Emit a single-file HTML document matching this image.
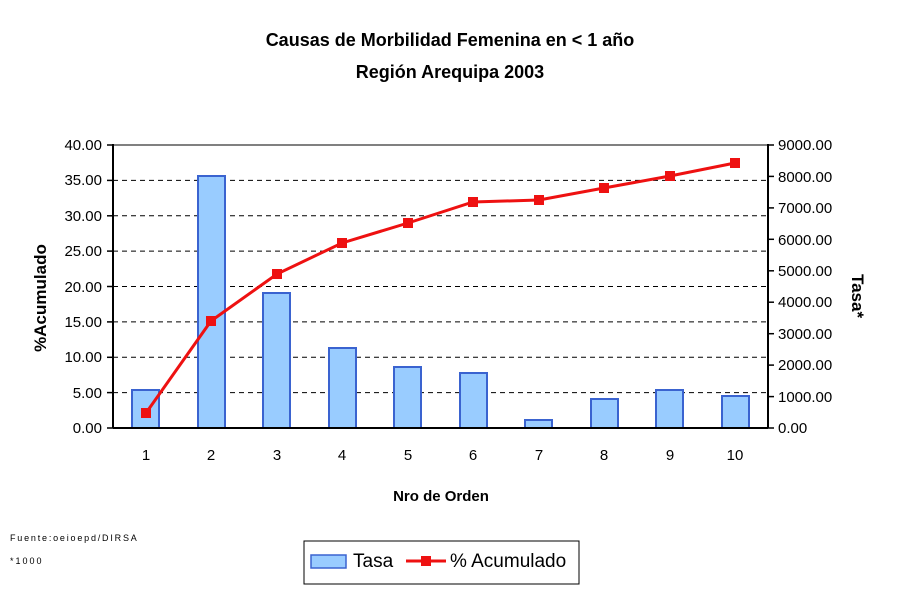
<!DOCTYPE html><html><head><meta charset="utf-8"><style>body{margin:0;background:#fff}svg{display:block}text{font-family:"Liberation Sans",Arial,sans-serif}</style></head><body>
<svg width="900" height="600" viewBox="0 0 900 600" xmlns="http://www.w3.org/2000/svg">
<rect width="900" height="600" fill="#fff"/>
<text x="450" y="46" font-size="18" font-weight="bold" text-anchor="middle">Causas de Morbilidad Femenina en &lt; 1 año</text>
<text x="450" y="78" font-size="18" font-weight="bold" text-anchor="middle">Región Arequipa 2003</text>
<line x1="113" y1="145" x2="768" y2="145" stroke="#808080" stroke-width="2"/>
<g stroke="#000" stroke-dasharray="5,4" stroke-width="1">
<line x1="113" y1="180.4" x2="768" y2="180.4"/><line x1="113" y1="215.8" x2="768" y2="215.8"/><line x1="113" y1="251.1" x2="768" y2="251.1"/><line x1="113" y1="286.5" x2="768" y2="286.5"/><line x1="113" y1="321.9" x2="768" y2="321.9"/><line x1="113" y1="357.3" x2="768" y2="357.3"/><line x1="113" y1="392.6" x2="768" y2="392.6"/>
</g>
<g fill="#99ccff" stroke="#3a63d0" stroke-width="2">
<rect x="132" y="390" width="27" height="38"/>
<rect x="198" y="176" width="27" height="252"/>
<rect x="263" y="293" width="27" height="135"/>
<rect x="329" y="348" width="27" height="80"/>
<rect x="394" y="367" width="27" height="61"/>
<rect x="460" y="373" width="27" height="55"/>
<rect x="525" y="420" width="27" height="8"/>
<rect x="591" y="399" width="27" height="29"/>
<rect x="656" y="390" width="27" height="38"/>
<rect x="722" y="396" width="27" height="32"/>
</g>
<g stroke="#000" stroke-width="2"><line x1="113" y1="144" x2="113" y2="428"/><line x1="768" y1="144" x2="768" y2="428"/><line x1="113" y1="428" x2="768" y2="428"/></g>
<g stroke="#000" stroke-width="1.5">
<line x1="107" y1="145" x2="113" y2="145"/><line x1="107" y1="180.4" x2="113" y2="180.4"/><line x1="107" y1="215.8" x2="113" y2="215.8"/><line x1="107" y1="251.1" x2="113" y2="251.1"/><line x1="107" y1="286.5" x2="113" y2="286.5"/><line x1="107" y1="321.9" x2="113" y2="321.9"/><line x1="107" y1="357.3" x2="113" y2="357.3"/><line x1="107" y1="392.6" x2="113" y2="392.6"/><line x1="107" y1="428" x2="113" y2="428"/>
<line x1="768" y1="145" x2="774" y2="145"/><line x1="768" y1="176.4" x2="774" y2="176.4"/><line x1="768" y1="207.9" x2="774" y2="207.9"/><line x1="768" y1="239.3" x2="774" y2="239.3"/><line x1="768" y1="270.8" x2="774" y2="270.8"/><line x1="768" y1="302.2" x2="774" y2="302.2"/><line x1="768" y1="333.7" x2="774" y2="333.7"/><line x1="768" y1="365.1" x2="774" y2="365.1"/><line x1="768" y1="396.6" x2="774" y2="396.6"/><line x1="768" y1="428" x2="774" y2="428"/>
</g>
<g font-size="15" text-anchor="end">
<text x="102" y="150">40.00</text><text x="102" y="185">35.00</text><text x="102" y="221">30.00</text><text x="102" y="256">25.00</text><text x="102" y="292">20.00</text><text x="102" y="327">15.00</text><text x="102" y="362">10.00</text><text x="102" y="398">5.00</text><text x="102" y="433">0.00</text>
</g>
<g font-size="15">
<text x="778" y="150">9000.00</text><text x="778" y="182">8000.00</text><text x="778" y="213">7000.00</text><text x="778" y="245">6000.00</text><text x="778" y="276">5000.00</text><text x="778" y="307">4000.00</text><text x="778" y="339">3000.00</text><text x="778" y="370">2000.00</text><text x="778" y="402">1000.00</text><text x="778" y="433">0.00</text>
</g>
<g font-size="15" text-anchor="middle">
<text x="146" y="460">1</text><text x="211" y="460">2</text><text x="277" y="460">3</text><text x="342" y="460">4</text><text x="408" y="460">5</text><text x="473" y="460">6</text><text x="539" y="460">7</text><text x="604" y="460">8</text><text x="670" y="460">9</text><text x="735" y="460">10</text>
</g>
<text x="441" y="501" font-size="15" font-weight="bold" text-anchor="middle">Nro de Orden</text>
<text transform="translate(46,298) rotate(-90)" font-size="17" font-weight="bold" text-anchor="middle">%Acumulado</text>
<text transform="translate(852,296) rotate(90)" font-size="17" font-weight="bold" text-anchor="middle">Tasa*</text>
<polyline fill="none" stroke="#ee1111" stroke-width="3" points="146,413 211,321 277,274 342,243 408,223 473,202 539,200 604,188 670,176 735,163"/>
<g fill="#ee1111">
<rect x="141" y="408" width="10" height="10"/><rect x="206" y="316" width="10" height="10"/><rect x="272" y="269" width="10" height="10"/><rect x="337" y="238" width="10" height="10"/><rect x="403" y="218" width="10" height="10"/><rect x="468" y="197" width="10" height="10"/><rect x="534" y="195" width="10" height="10"/><rect x="599" y="183" width="10" height="10"/><rect x="665" y="171" width="10" height="10"/><rect x="730" y="158" width="10" height="10"/>
</g>
<text x="10" y="541" font-size="9" letter-spacing="1.8">Fuente:oeioepd/DIRSA</text>
<text x="10" y="564" font-size="9" letter-spacing="2">*1000</text>
<rect x="304" y="541" width="275" height="43" fill="#fff" stroke="#000" stroke-width="1"/>
<rect x="311" y="555" width="35" height="13" fill="#99ccff" stroke="#3a63d0" stroke-width="1.5"/>
<text x="353" y="567" font-size="19">Tasa</text>
<line x1="406" y1="561" x2="446" y2="561" stroke="#ee1111" stroke-width="3"/>
<rect x="421" y="556" width="10" height="10" fill="#ee1111"/>
<text x="450" y="567" font-size="19">% Acumulado</text>
</svg>
</body></html>
